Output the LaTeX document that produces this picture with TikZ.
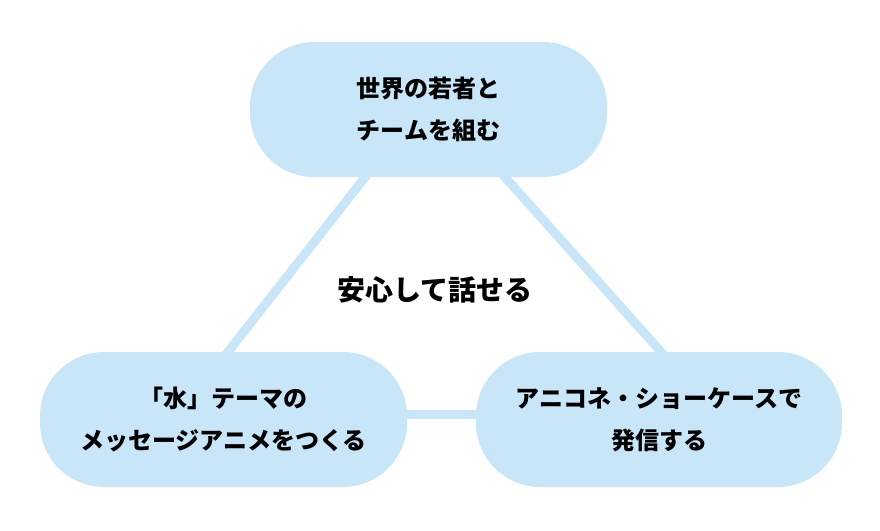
\documentclass[tikz,border=0pt]{standalone}
\usepackage{fontspec}
\setmainfont{Noto Sans CJK JP}
\usetikzlibrary{calc,backgrounds}
\definecolor{pill}{RGB}{200,230,248}
\tikzset{
  pillbox/.style={fill=pill, draw=none, rounded corners=64pt, align=center,
    inner sep=0pt, minimum height=135pt,
    font=\fontsize{24}{42}\selectfont\bfseries},
  link/.style={draw=pill, line width=9pt, shorten <=-6pt, shorten >=-6pt},
  midtext/.style={font=\fontsize{28}{32}\selectfont\bfseries, inner sep=0pt}
}
\begin{document}
\begin{tikzpicture}[x=1pt,y=-1pt]
\useasboundingbox (0,0) rectangle (880,530);
\node[pillbox, minimum width=357pt] (top) at (428.5,109.5) {世界の若者と\\チームを組む};
\node[pillbox, minimum width=367pt] (bl) at (223.5,419.5) {「水」テーマの\\メッセージアニメをつくる};
\node[pillbox, minimum width=366pt] (br) at (659,419.5) {アニコネ・ショーケースで\\発信する};
\node[midtext] (mid) at (435,290) {安心して話せる};
\begin{scope}[on background layer]
\draw[link] ($(top.south)+(-63.5,0)$) -- ($(bl.north)+(4.5,0)$);
\draw[link] ($(top.south)+(76.5,0)$) -- ($(br.north)+(2,0)$);
\draw[link] ($(bl.east)+(0,-5)$) -- ($(br.west)+(0,-5)$);
\end{scope}
\end{tikzpicture}
\end{document}
